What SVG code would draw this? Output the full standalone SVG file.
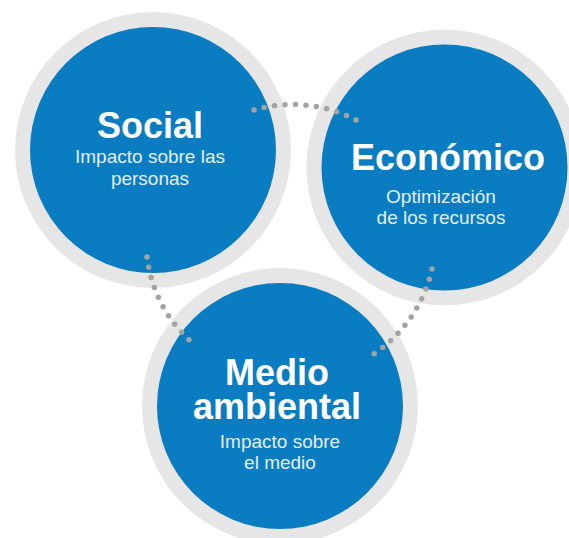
<svg xmlns="http://www.w3.org/2000/svg" width="569" height="538" viewBox="0 0 569 538">
<style>
.ring{fill:#e6e6e6}
.disc{fill:#0a7cc1}
.title{font-family:"Liberation Sans",Arial,sans-serif;font-weight:bold;font-size:36px;fill:#ffffff;text-anchor:middle}
.sub{font-family:"Liberation Sans",Arial,sans-serif;font-size:19px;fill:#e3eef8;text-anchor:middle}
.dots{fill:none;stroke:#a3a3a3;stroke-width:5.5;stroke-linecap:round;stroke-dasharray:0 10.5}
</style>
<rect width="569" height="538" fill="#ffffff"/>
<g id="social">
<circle class="ring" cx="153" cy="150" r="138"/>
<circle class="disc" cx="153" cy="150" r="123"/>
<text class="title" x="150" y="138">Social</text>
<text class="sub" x="150" y="163">Impacto sobre las<tspan x="150" y="185">personas</tspan></text>
</g>
<g id="economico">
<circle class="ring" cx="444.5" cy="167.5" r="138"/>
<circle class="disc" cx="444.5" cy="167.5" r="123"/>
<text class="title" x="448" y="170">Económico</text>
<text class="sub" x="441" y="203">Optimización<tspan x="441" y="224">de los recursos</tspan></text>
</g>
<g id="medio">
<circle class="ring" cx="280" cy="406" r="138"/>
<circle class="disc" cx="280" cy="406" r="123"/>
<text class="title" x="277" y="385">Medio<tspan x="277" y="419">ambiental</tspan></text>
<text class="sub" x="280" y="448">Impacto sobre<tspan x="280" y="469">el medio</tspan></text>
</g>
<g id="connectors">
<path class="dots" d="M254,110 A138,138 0 0 1 358,121"/>
<path class="dots" d="M147,257 A135,135 0 0 0 195,345"/>
<path class="dots" d="M432,269 A140,140 0 0 1 371,356"/>
</g>
</svg>
